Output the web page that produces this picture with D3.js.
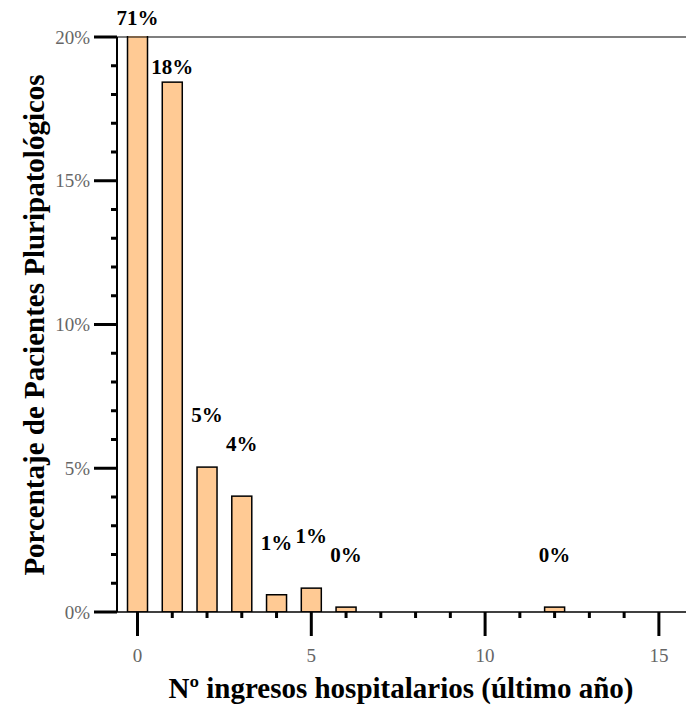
<!DOCTYPE html>
<html>
<head>
<meta charset="utf-8">
<script src="https://cdn.jsdelivr.net/npm/d3@7"></script>
<style>
  body { margin: 0; background: #fff; }
  text { font-family: "Liberation Serif", "Times New Roman", serif; }
</style>
</head>
<body>
<div id="chart"></div>
<script>
// data: number of hospital admissions vs percentage of patients
var admissions = [0, 1, 2, 3, 4, 5, 6, 12]
var percents = [71, 18.43, 5.04, 4.03, 0.6, 0.83, 0.17, 0.17]
var labels = ["71%", "18%", "5%", "4%", "1%", "1%", "0%", "0%"]
var yTicks = [0, 5, 10, 15, 20]
var xTicks = [0, 5, 10, 15]

var width = 686, height = 706
var plotL = 117, plotR = 686, plotT = 37, plotB = 612

var svg = d3.select("#chart").append("svg")
  .attr("width", width)
  .attr("height", height)

var x = d3.scaleLinear().domain([-0.59, 15.78]).range([plotL, plotR])
var y = d3.scaleLinear().domain([0, 20]).range([plotB, plotT])

var barW = 20

svg.append("clipPath").attr("id", "clip")
  .append("rect").attr("x", plotL).attr("y", plotT - 1).attr("width", plotR - plotL).attr("height", plotB - plotT + 1)

// bars
svg.append("g")
  .attr("clip-path", "url(#clip)")
  .selectAll("rect")
  .data(admissions)
  .join("rect")
    .attr("x", (d, i) => x(d) - barW / 2)
    .attr("y", (d, i) => y(Math.min(percents[i], 20.5)))
    .attr("width", barW)
    .attr("height", (d, i) => plotB - y(Math.min(percents[i], 20.5)))
    .attr("fill", "#ffca94")
    .attr("stroke", "#000")
    .attr("stroke-width", 1.5)

// top frame line
svg.append("line")
  .attr("x1", plotL).attr("x2", plotR).attr("y1", plotT).attr("y2", plotT)
  .attr("stroke", "#000").attr("stroke-width", 1.2)

// y axis
var yAxis = svg.append("g").attr("transform", "translate(" + plotL + ",0)")
yAxis.append("line").attr("y1", plotT).attr("y2", plotB).attr("stroke", "#000").attr("stroke-width", 2)
yAxis.selectAll(".minor")
  .data(d3.range(0, 21))
  .join("line")
    .attr("x1", d => yTicks.includes(d) ? -23 : -6)
    .attr("x2", 0)
    .attr("y1", d => y(d)).attr("y2", d => y(d))
    .attr("stroke", "#000").attr("stroke-width", 3)
yAxis.selectAll("text")
  .data(yTicks)
  .join("text")
    .attr("x", -27)
    .attr("y", d => y(d))
    .attr("dy", "0.35em")
    .attr("text-anchor", "end")
    .attr("font-size", 19)
    .attr("fill", "#666")
    .text(d => d + "%")

// x axis
var xAxis = svg.append("g").attr("transform", "translate(0," + plotB + ")")
xAxis.append("line").attr("x1", plotL).attr("x2", plotR).attr("stroke", "#000").attr("stroke-width", 1.5)
xAxis.selectAll(".tick")
  .data(d3.range(0, 16))
  .join("line")
    .attr("x1", d => x(d)).attr("x2", d => x(d))
    .attr("y1", 0)
    .attr("y2", d => xTicks.includes(d) ? 24 : 6)
    .attr("stroke", "#000").attr("stroke-width", 3)
xAxis.selectAll("text")
  .data(xTicks)
  .join("text")
    .attr("x", d => x(d))
    .attr("y", 50)
    .attr("text-anchor", "middle")
    .attr("font-size", 19)
    .attr("fill", "#666")
    .text(d => d)

// value labels
svg.append("g")
  .selectAll("text")
  .data(admissions)
  .join("text")
    .attr("x", d => x(d))
    .attr("y", function(d, i) {
      var v = percents[i]
      if (v > 20) return plotT - 12
      if (y(v) - 45 < plotT + 20) return y(v) - 8
      return y(v) - 45
    })
    .attr("text-anchor", "middle")
    .attr("font-size", 21)
    .attr("font-weight", "bold")
    .text((d, i) => labels[i])

// axis titles
svg.append("text")
  .attr("x", 401)
  .attr("y", 698)
  .attr("text-anchor", "middle")
  .attr("font-size", 29)
  .attr("font-weight", "bold")
  .text("Nº ingresos hospitalarios (último año)")

svg.append("text")
  .attr("transform", "translate(44,325) rotate(-90)")
  .attr("text-anchor", "middle")
  .attr("font-size", 29)
  .attr("font-weight", "bold")
  .text("Porcentaje de Pacientes Pluripatológicos")
</script>
</body>
</html>
